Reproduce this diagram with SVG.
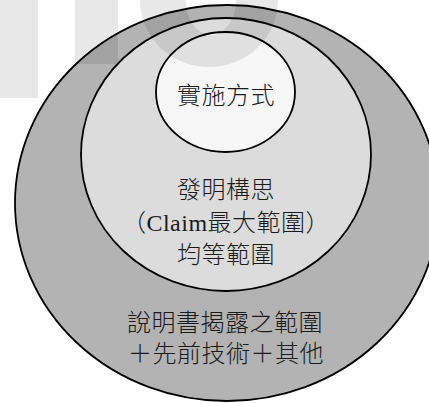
<svg xmlns="http://www.w3.org/2000/svg" width="429" height="403" viewBox="0 0 429 403">
<style>
.c{stroke:#000;stroke-width:1.8}
.t{font-family:"Liberation Serif","Noto Sans CJK TC",serif;font-size:24px;font-weight:300;fill:#1a1a1a;text-anchor:middle;letter-spacing:0.5px}
.wm{fill:#000;opacity:0.09}
</style>
<rect width="429" height="403" fill="#fff"/>
<g id="outer">
<ellipse class="c" cx="227" cy="203" rx="212" ry="198" fill="#b3b3b3"/>
</g>
<g id="middle">
<ellipse class="c" cx="226" cy="154.5" rx="145" ry="136.5" fill="#dcdcdc"/>
</g>
<g id="inner">
<ellipse class="c" cx="225.5" cy="92" rx="69.5" ry="60" fill="#f7f7f7"/>
</g>
<g id="watermark">
<rect class="wm" x="0" y="0" width="38" height="98"/>
<rect class="wm" x="75" y="0" width="43" height="64"/>
<path class="wm" fill-rule="evenodd" d="M140,0 A69,67 0 0 0 278,0 Z M186,0 A24,34 0 0 0 236,0 Z"/>
</g>
<g id="labels">
<text class="t" x="226" y="104">實施方式</text>
<text class="t" x="226" y="198">發明構思</text>
<text class="t" x="226" y="231">（Claim最大範圍）</text>
<text class="t" x="226" y="263">均等範圍</text>
<text class="t" x="225" y="331">說明書揭露之範圍</text>
<text class="t" x="226" y="362">＋先前技術＋其他</text>
</g>
</svg>
